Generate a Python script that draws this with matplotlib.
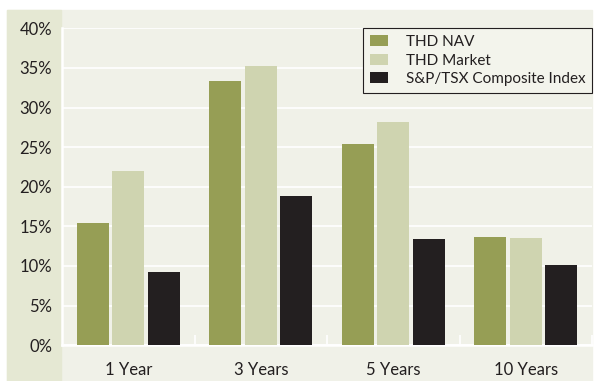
import matplotlib.pyplot as plt
from matplotlib.patches import Rectangle
import numpy as np

plt.rcParams['font.family'] = ['Lato', 'DejaVu Sans']

periods = ['1 Year', '3 Years', '5 Years', '10 Years']
thd_nav = [15.4, 33.4, 25.4, 13.6]
thd_market = [22.0, 35.3, 28.2, 13.5]
sptsx = [9.2, 18.8, 13.4, 10.1]

series = [('THD NAV', thd_nav, '#969e55'),
          ('THD Market', thd_market, '#cfd4b0'),
          ('S&P/TSX Composite Index', sptsx, '#231f20')]

fig = plt.figure(figsize=(5.97, 3.81), dpi=100)
W, H = 597, 381

# background panels (figure pixels)
fig.patches.append(Rectangle((7 / W, 0), (592 - 7) / W, (H - 10) / H,
                             transform=fig.transFigure, color='#f0f1e8', zorder=-10))
fig.patches.append(Rectangle((7 / W, 0), (61 - 7) / W, (H - 10) / H,
                             transform=fig.transFigure, color='#e5e8d3', zorder=-9))

ax = fig.add_axes([62 / W, 1 - 345.2 / H, (592 - 62) / W, (345.2 - 28.4) / H])
ax.set_facecolor('none')
ax.set_zorder(1)

x = np.arange(len(periods))
width = 0.242
step = 0.268
for i, (label, vals, color) in enumerate(series):
    ax.bar(x + (i - 1) * step, vals, width, color=color, label=label, zorder=3)

ax.set_xlim(-0.5, 3.5)
ax.set_ylim(0, 40)
ax.set_yticks(range(0, 41, 5))
ax.set_yticklabels(['{}%'.format(v) for v in range(0, 41, 5)])
ax.set_xticks(x)
ax.set_xticklabels(periods)
ax.set_xticks([0.5, 1.5, 2.5, 3.5], minor=True)

ax.grid(axis='y', color='white', linewidth=1.2, zorder=1)
ax.tick_params(axis='y', length=0, labelsize=12, labelcolor='#231f20', pad=7)
ax.tick_params(axis='x', which='major', length=0, labelsize=12, labelcolor='#231f20', pad=12)
ax.tick_params(axis='x', which='minor', direction='in', length=7, width=1.2, color='white')

for side in ['top', 'right']:
    ax.spines[side].set_visible(False)
for side in ['left', 'bottom']:
    ax.spines[side].set_color('white')
    ax.spines[side].set_linewidth(1.8)

leg = ax.legend(loc='upper right', bbox_to_anchor=(1.0, 1.0), frameon=True, fancybox=False,
                edgecolor='#231f20', facecolor='#f3f4ec', framealpha=1, fontsize=11,
                handlelength=1.2, handleheight=0.73, handletextpad=1.15, labelspacing=0.28,
                borderpad=0.45, borderaxespad=0.0)
leg.get_frame().set_linewidth(0.8)
for t in leg.get_texts():
    t.set_color('#231f20')

fig.savefig('out.png', dpi=100)
